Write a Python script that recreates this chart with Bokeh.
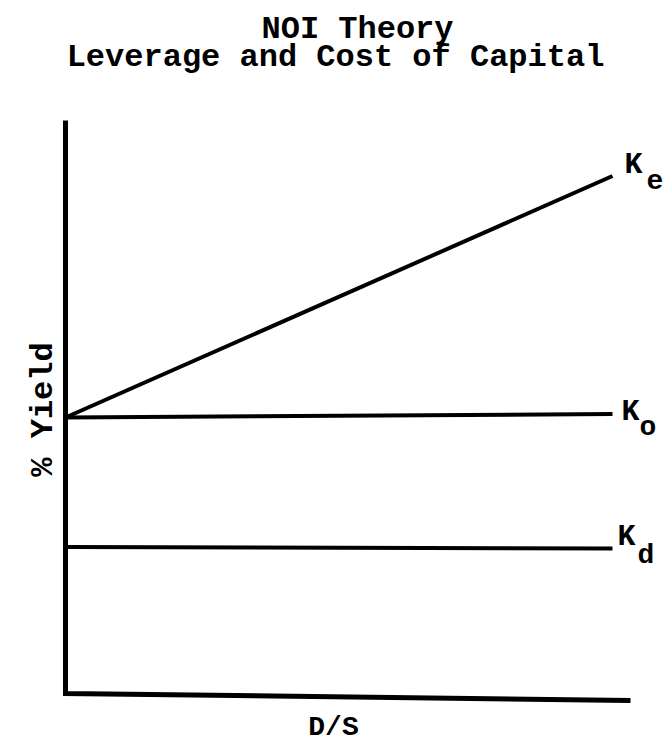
from bokeh.plotting import figure
from bokeh.models import Range1d
from bokeh.core.properties import value
from bokeh.embed import file_html
from bokeh.resources import INLINE
import math

# ---- data (conceptual NOI theory chart) ----
ds = [0.0, 1.0]            # D/S (leverage)
ke = [8.0, 15.0]           # cost of equity
ko = [8.0, 8.1]            # overall cost of capital
kd = [4.25, 4.2]           # cost of debt
series_main = ["K", "K", "K"]
series_sub = ["e", "o", "d"]
title_lines = ["NOI Theory", "Leverage and Cost of Capital"]
x_label = "D/S"
y_label = "% Yield"

# ---- layout (screen mapping) ----
W, H = 665, 743
MARGIN = 0
OX, OY = 65, 693          # screen position of data origin
PX_X = 547.0              # px per D/S unit
PX_Y = 34.5               # px per yield unit


def X(sx):
    return (sx - OX) / PX_X


def Y(sy):
    return (OY - sy) / PX_Y


p = figure(width=W, height=H, output_backend="svg", toolbar_location=None,
           x_axis_type=None, y_axis_type=None, min_border=0,
           x_range=Range1d(X(MARGIN), X(MARGIN + W)),
           y_range=Range1d(Y(MARGIN + H), Y(MARGIN)))
p.grid.visible = False
p.outline_line_color = None
p.background_fill_color = "white"
p.border_fill_color = "white"

FONT = value("Liberation Mono")

# axes drawn as one hand-drawn style polyline
p.line([0, 0, X(630)], [Y(120), 0, Y(700)], line_color="black",
       line_width=5, line_join="miter")

# series lines
for ys in (ke, ko, kd):
    p.line(ds, ys, line_color="black", line_width=4, line_cap="butt")

# series labels (K with lowered subscript)
offsets = [((12, -11), (34, 4)), ((9, -2), (27, 13)), ((5, -12), (25, 7))]
for ys, m, s, (mo, so) in zip((ke, ko, kd), series_main, series_sub, offsets):
    p.text(x=[ds[-1]], y=[ys[-1]], text=[m], x_offset=mo[0], y_offset=mo[1],
           text_font=FONT, text_font_style="bold", text_font_size="30px",
           text_align="left", text_baseline="alphabetic", text_color="black")
    p.text(x=[ds[-1]], y=[ys[-1]], text=[s], x_offset=so[0], y_offset=so[1],
           text_font=FONT, text_font_style="bold", text_font_size="28px",
           text_align="left", text_baseline="alphabetic", text_color="black")

# title
p.text(x=[X(357), X(335)], y=[Y(29), Y(57)], text=title_lines,
       text_font=FONT, text_font_style="bold", text_font_size="32px",
       text_align="center", text_baseline="alphabetic", text_color="black")

# axis labels
p.text(x=[X(43)], y=[Y(409)], text=[y_label], angle=math.pi / 2,
       text_font=FONT, text_font_style="bold", text_font_size="32px",
       text_align="center", text_baseline="alphabetic", text_color="black")
p.text(x=[X(333)], y=[Y(727)], text=[x_label],
       text_font=FONT, text_font_style="bold", text_font_size="28px",
       text_align="center", text_baseline="alphabetic", text_color="black")

open("out.html", "w").write(file_html(p, INLINE))
